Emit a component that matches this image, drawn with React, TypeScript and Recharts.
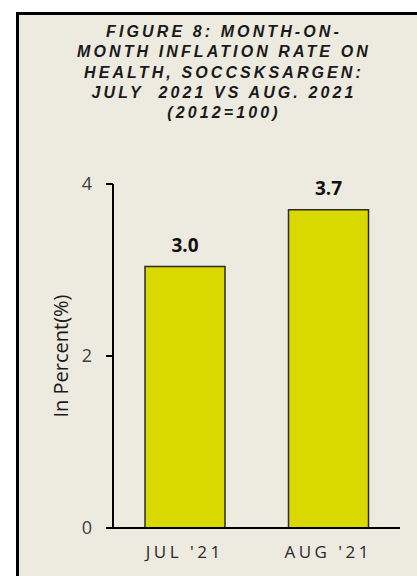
import { BarChart, Bar, XAxis, YAxis, LabelList } from 'recharts';

const months = ['JUL \'21', 'AUG \'21'];
// bar heights; labels show one decimal
const inflation = [3.04, 3.7];
const yTicks = [0, 2, 4];
const titleLines = [
  'FIGURE 8: MONTH-ON-',
  'MONTH INFLATION RATE ON',
  'HEALTH, SOCCSKSARGEN:',
  'JULY  2021 VS AUG. 2021',
  '(2012=100)',
];

const data = months.map((m, i) => ({ month: m, value: inflation[i] }));

const font = '"Open Sans", "DejaVu Sans", sans-serif';

export default function App() {
  return (
    <div style={{ position: 'fixed', left: 0, top: 0, width: 417, height: 576, background: '#fff', fontFamily: font }}>
      <div
        style={{
          position: 'absolute',
          left: 16,
          top: 12,
          width: 401,
          height: 564,
          boxSizing: 'border-box',
          borderLeft: '3px solid #000',
          borderTop: '3px solid #000',
          background: '#EDEAE0',
        }}
      />
      <div
        style={{
          position: 'absolute',
          left: 24,
          top: 22,
          width: 400,
          textAlign: 'center',
          fontFamily: '"Liberation Sans", Arial, sans-serif',
          fontWeight: 700,
          fontStyle: 'italic',
          fontSize: 16,
          lineHeight: '20.3px',
          letterSpacing: 3.1,
          color: '#1a1a1a',
          whiteSpace: 'pre',
        }}
      >
        {titleLines.map((l) => (
          <div key={l}>{l}</div>
        ))}
      </div>
      <div style={{ position: 'absolute', left: 0, top: 0 }}>
        <BarChart width={417} height={576} data={data} margin={{ top: 184, right: 17, bottom: 18, left: 53 }}>
          <XAxis
            dataKey="month"
            height={30}
            axisLine={{ stroke: '#000', strokeWidth: 2 }}
            tickLine={false}
            tickSize={0}
            tickMargin={18}
            tick={{ fill: '#2a2a2a', fontSize: 17, letterSpacing: 3.5, fontFamily: font }}
          />
          <YAxis
            width={60}
            domain={[0, 4]}
            ticks={yTicks}
            axisLine={{ stroke: '#000', strokeWidth: 2 }}
            tickLine={{ stroke: '#000', strokeWidth: 2 }}
            tickSize={7}
            tickMargin={14}
            tick={{ fill: '#404040', fontSize: 18, fontFamily: font }}
            label={{
              content: ({ viewBox }: any) => {
                const cy = viewBox.y + viewBox.height / 2;
                return (
                  <text
                    x={68}
                    y={cy}
                    transform={`rotate(-90, 68, ${cy})`}
                    textAnchor="middle"
                    fontSize={20}
                    fill="#1a1a1a"
                    fontFamily={font}
                  >
                    In Percent(%)
                  </text>
                );
              },
            }}
          />
          <Bar dataKey="value" barSize={80} fill="#D9D900" stroke="#2b2b2b" strokeWidth={1.5} isAnimationActive={false}>
            <LabelList
              dataKey="value"
              position="top"
              offset={15}
              formatter={(v: number) => v.toFixed(1)}
              style={{ fontWeight: 700, fontSize: 19, fill: '#111', fontFamily: font }}
            />
          </Bar>
        </BarChart>
      </div>
    </div>
  );
}
